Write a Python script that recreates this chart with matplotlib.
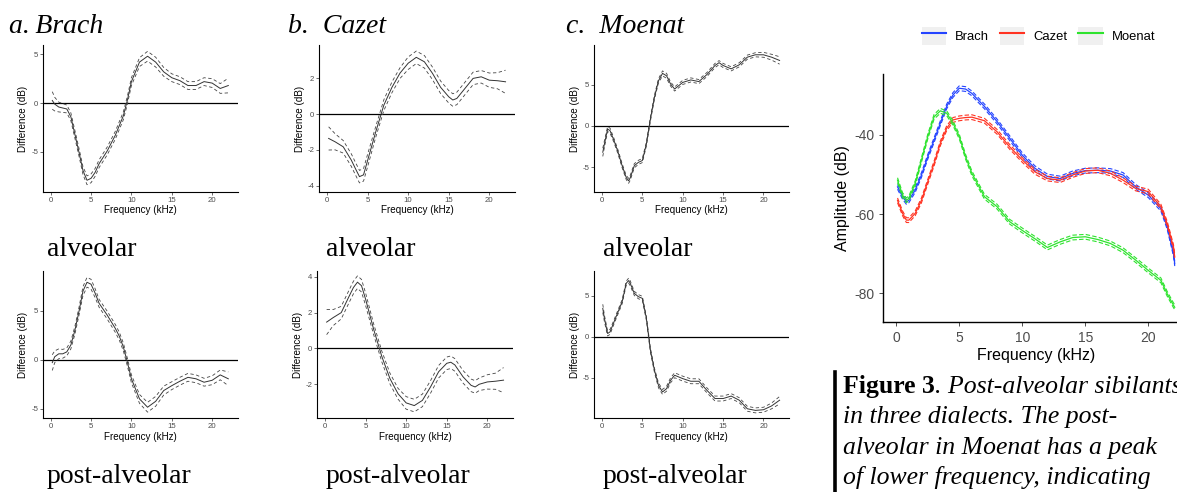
import matplotlib
matplotlib.use("Agg")
import matplotlib.pyplot as plt
from matplotlib.lines import Line2D
from matplotlib.patches import Patch
from matplotlib.legend_handler import HandlerTuple

matplotlib.rcParams["axes.unicode_minus"] = False

W, H = 1177, 492
SANS = "Liberation Sans"
SERIF = "Liberation Serif"

# ---------------------------------------------------------------- difference curves (dB)
# Brach, alveolar
a_alv_f = [0.2, 0.5, 1, 1.5, 2, 2.5, 3, 3.5, 4, 4.5, 5, 5.5, 6, 7, 8, 9, 9.5, 10, 11, 12,
           13, 14, 15, 16, 17, 18, 19, 20, 21, 22]
a_alv_y = [0.27, -0.1, -0.4, -0.5, -0.6, -1.4, -3.2, -5.0, -6.9, -7.9, -7.7, -7.1, -6.2, -4.9,
           -3.3, -1.3, 0.3, 2.2, 4.2, 4.8, 4.2, 3.2, 2.6, 2.3, 1.8, 1.8, 2.2, 2.05, 1.5, 1.8]
a_alv_se = [0.9, 0.7, 0.5, 0.45, 0.4, 0.4, 0.4, 0.4, 0.4, 0.45, 0.45, 0.4, 0.4, 0.4, 0.4, 0.4,
            0.4, 0.4, 0.45, 0.5, 0.5, 0.45, 0.4, 0.4, 0.4, 0.4, 0.4, 0.45, 0.5, 0.75]
# Brach, post-alveolar
a_post_f = [0.2, 0.5, 1, 1.5, 2, 2.5, 3, 3.5, 4, 4.5, 5, 5.5, 6, 7, 8, 8.5, 9, 9.5, 10, 11,
            12, 13, 14, 15, 16, 17, 18, 19, 20, 21, 22]
a_post_y = [-0.3, 0.3, 0.6, 0.6, 0.8, 1.5, 3.0, 4.9, 7.0, 7.9, 7.7, 6.8, 5.75, 4.55, 3.2, 2.4,
            1.3, -0.25, -1.95, -4.0, -4.85, -4.25, -3.15, -2.65, -2.2, -1.8, -1.95, -2.3,
            -2.1, -1.55, -1.95]
a_post_se = [0.8, 0.6, 0.5, 0.45, 0.4, 0.4, 0.4, 0.4, 0.45, 0.5, 0.5, 0.45, 0.4, 0.4, 0.4,
             0.4, 0.4, 0.4, 0.4, 0.45, 0.5, 0.5, 0.45, 0.4, 0.4, 0.4, 0.4, 0.4, 0.45, 0.5, 0.7]
# Cazet, alveolar
b_alv_f = [0.2, 1, 2, 3, 3.5, 4, 4.5, 5, 6, 7, 8, 9, 10, 11, 12, 13, 14, 15, 15.5, 16, 17,
           18, 19, 20, 21, 22]
b_alv_y = [-1.36, -1.55, -1.83, -2.58, -3.05, -3.5, -3.4, -2.6, -1.0, 0.5, 1.5, 2.3, 2.85,
           3.18, 2.93, 2.28, 1.5, 0.97, 0.79, 0.88, 1.44, 2.0, 2.09, 1.9, 1.87, 1.81]
b_alv_se = [0.65, 0.45, 0.35, 0.35, 0.35, 0.35, 0.35, 0.35, 0.3, 0.3, 0.3, 0.3, 0.35, 0.35,
            0.35, 0.35, 0.35, 0.35, 0.35, 0.35, 0.35, 0.35, 0.35, 0.4, 0.45, 0.65]
# Cazet, post-alveolar
b_post_f = [0.2, 1, 2, 3, 3.5, 4, 4.5, 5, 6, 7, 8, 9, 10, 11, 12, 13, 14, 15, 15.5, 16, 17,
            18, 18.5, 19, 20, 21, 22]
b_post_y = [1.47, 1.72, 2.0, 2.94, 3.4, 3.7, 3.5, 2.75, 1.06, -0.45, -1.68, -2.53, -3.04,
            -3.19, -2.9, -2.15, -1.3, -0.83, -0.77, -0.92, -1.58, -2.06, -2.15, -2.0, -1.87,
            -1.83, -1.77]
b_post_se = [0.7, 0.45, 0.35, 0.35, 0.35, 0.35, 0.35, 0.35, 0.3, 0.3, 0.3, 0.3, 0.35, 0.35,
             0.35, 0.35, 0.35, 0.35, 0.35, 0.35, 0.35, 0.35, 0.35, 0.35, 0.4, 0.45, 0.7]
# Moenat, alveolar
c_alv_f = [0.1, 0.3, 0.7, 1, 1.5, 2, 2.5, 3, 3.3, 3.5, 4, 4.5, 5, 5.5, 6, 6.5, 7, 7.5, 8,
           8.5, 9, 10, 11, 12, 13, 14, 14.5, 15, 16, 17, 18, 19, 20, 21, 22]
c_alv_y = [-3.2, -2.2, -0.37, -0.57, -1.8, -3.2, -4.84, -6.26, -6.67, -6.3, -4.84, -4.43,
           -4.2, -2.2, 0.85, 3.5, 5.5, 6.4, 6.1, 5.1, 4.5, 5.3, 5.6, 5.4, 6.26, 7.36, 7.7,
           7.36, 6.95, 7.44, 8.37, 8.66, 8.66, 8.37, 7.97]
c_alv_se = [0.5, 0.4, 0.3, 0.3, 0.25, 0.25, 0.25, 0.25, 0.3, 0.3, 0.25, 0.25, 0.25, 0.25,
            0.25, 0.25, 0.25, 0.3, 0.3, 0.25, 0.25, 0.25, 0.25, 0.25, 0.25, 0.25, 0.25, 0.25,
            0.25, 0.25, 0.25, 0.25, 0.3, 0.35, 0.45]
# Moenat, post-alveolar
c_post_f = [0.1, 0.3, 0.7, 1, 1.5, 2, 2.5, 3, 3.3, 3.5, 4, 4.5, 5, 5.5, 6, 6.5, 7, 7.5, 8,
            8.5, 9, 10, 11, 12, 13, 14, 15, 16, 17, 18, 19, 20, 21, 22]
c_post_y = [3.45, 2.24, 0.4, 0.6, 1.83, 3.05, 4.27, 6.5, 6.83, 6.5, 5.28, 4.88, 4.67, 2.24,
            -1.63, -4.07, -5.9, -6.7, -6.3, -5.28, -4.67, -5.08, -5.4, -5.4, -6.5, -7.5,
            -7.5, -7.2, -7.7, -8.74, -8.94, -8.86, -8.4, -7.7]
c_post_se = [0.5, 0.4, 0.3, 0.3, 0.25, 0.25, 0.25, 0.25, 0.3, 0.3, 0.25, 0.25, 0.25, 0.25,
             0.25, 0.25, 0.3, 0.3, 0.3, 0.3, 0.3, 0.3, 0.3, 0.3, 0.3, 0.3, 0.3, 0.3, 0.3,
             0.3, 0.3, 0.3, 0.35, 0.45]

# ---------------------------------------------------------------- post-alveolar spectra (dB)
spec_f = [0.1, 0.5, 0.8, 1, 1.5, 2, 2.5, 3, 3.5, 4, 4.5, 5, 5.5, 6, 7, 8, 9, 10, 11, 12, 13,
          14, 15, 16, 17, 18, 19, 20, 21, 21.5, 22, 22.1]
spec_brach = [-53.1, -55.6, -56.9, -56.5, -53.9, -50.1, -45.5, -41.3, -37.0, -32.8, -29.9,
              -28.2, -28.4, -29.5, -32.8, -36.6, -40.8, -45.1, -48.4, -50.5, -51.0, -49.7,
              -49.0, -48.9, -49.1, -50.1, -53.1, -55.2, -58.6, -63.2, -70.0, -72.5]
spec_cazet = [-56.5, -59.8, -61.5, -61.5, -59.8, -56.5, -51.8, -47.2, -42.1, -38.3, -36.2,
              -35.8, -35.6, -35.5, -36.4, -39.2, -43.0, -46.3, -49.3, -51.0, -51.4, -50.1,
              -49.1, -48.9, -49.7, -51.4, -53.5, -54.3, -58.1, -62.4, -68.3, -70.8]
spec_moenat = [-51.4, -55.2, -56.5, -56.0, -52.2, -46.3, -40.4, -35.4, -33.9, -34.5, -37.0,
               -40.4, -45.5, -49.7, -55.6, -58.1, -61.9, -64.1, -66.2, -68.4, -67.0, -65.9,
               -65.7, -66.4, -67.4, -69.1, -71.6, -74.2, -76.7, -80.1, -83.0, -83.5]
spec_se = 0.6
dialects = ["Brach", "Cazet", "Moenat"]
dialect_colors = ["#2444ff", "#ff3322", "#2ee32e"]

titles = ["a.\u2009Brach", "b.  Cazet", "c.  Moenat"]
caption_lines = ["in three dialects. The post-",
                 "alveolar in Moenat has a peak",
                 "of lower frequency, indicating"]


def px_axes(fig, left, top, right, bottom):
    """add axes from pixel edges (origin top-left)"""
    return fig.add_axes([left / W, 1 - bottom / H, (right - left) / W, (bottom - top) / H])


def style_small(ax, ylim, yticks):
    ax.set_xlim(-0.95, 23.2)
    ax.set_ylim(*ylim)
    ax.set_xticks([0, 5, 10, 15, 20])
    ax.set_yticks(yticks)
    for s in ("top", "right"):
        ax.spines[s].set_visible(False)
    for s in ("left", "bottom"):
        ax.spines[s].set_linewidth(0.8)
    ax.tick_params(labelsize=5.6, colors="#333333", labelcolor="#4d4d4d",
                   length=2, width=0.5, pad=1.5)
    for lab in ax.get_xticklabels() + ax.get_yticklabels():
        lab.set_family(SANS)
    ax.set_xlabel("Frequency (kHz)", fontsize=7.1, family=SANS, labelpad=1)
    ax.set_ylabel("Difference (dB)", fontsize=7.1, family=SANS, labelpad=2)


def draw_diff(ax, f, y, se):
    lo = [v - s for v, s in zip(y, se)]
    hi = [v + s for v, s in zip(y, se)]
    ax.axhline(0, color="black", lw=0.9, zorder=1)
    ax.plot(f, y, color="#333333", lw=0.7, zorder=3)
    ax.plot(f, lo, color="#444444", lw=0.6, ls=(0, (4, 3)), zorder=2)
    ax.plot(f, hi, color="#444444", lw=0.6, ls=(0, (4, 3)), zorder=2)


fig = plt.figure(figsize=(W / 100, H / 100), dpi=100)

# ---------------------------------------------------------------- small panels
top_row = [(43, 238, a_alv_f, a_alv_y, a_alv_se, (-9.1, 5.95), [-5, 0, 5]),
           (319.3, 515.3, b_alv_f, b_alv_y, b_alv_se, (-4.36, 3.87), [-4, -2, 0, 2]),
           (594.3, 789.3, c_alv_f, c_alv_y, c_alv_se, (-8.03, 9.85), [-5, 0, 5])]
bot_row = [(43, 238, a_post_f, a_post_y, a_post_se, (-5.98, 9.08), [-5, 0, 5]),
           (317.3, 513.3, b_post_f, b_post_y, b_post_se, (-3.9, 4.34), [-2, 0, 2, 4]),
           (594.3, 789.3, c_post_f, c_post_y, c_post_se, (-9.9, 8.03), [-5, 0, 5])]

for left, right, f, y, se, ylim, yt in top_row:
    ax = px_axes(fig, left, 45, right, 192)
    draw_diff(ax, f, y, se)
    style_small(ax, ylim, yt)
for left, right, f, y, se, ylim, yt in bot_row:
    ax = px_axes(fig, left, 270.7, right, 418.3)
    draw_diff(ax, f, y, se)
    style_small(ax, ylim, yt)

# panel titles and row labels
for xp, t in zip([9, 288, 566.5], titles):
    fig.text(xp / W, 1 - 33 / H, t, fontsize=20, family=[SERIF, "DejaVu Serif"],
             style="italic", va="baseline")
for xp in [47, 326, 603]:
    fig.text(xp / W, 1 - 256 / H, "alveolar", fontsize=20, family=SERIF, va="baseline")
    fig.text(xp / W, 1 - 483 / H, "post-alveolar", fontsize=20, family=SERIF, va="baseline")

# ---------------------------------------------------------------- spectra panel
axd = px_axes(fig, 883.3, 74, 1188.6, 322.3)
for vals, col in zip([spec_brach, spec_cazet, spec_moenat], dialect_colors):
    lo = [v - spec_se for v in vals]
    hi = [v + spec_se for v in vals]
    axd.plot(spec_f, lo, color=col, lw=0.8, ls=(0, (4, 2)))
    axd.plot(spec_f, hi, color=col, lw=0.8, ls=(0, (4, 2)))
    axd.plot(spec_f, vals, color=col, lw=0.9)
axd.set_xlim(-1.03, 23.2)
axd.set_ylim(-87.3, -24.6)
axd.set_xticks([0, 5, 10, 15, 20])
axd.set_yticks([-80, -60, -40])
for s in ("top", "right"):
    axd.spines[s].set_visible(False)
for s in ("left", "bottom"):
    axd.spines[s].set_linewidth(1.0)
axd.tick_params(labelsize=10, colors="#333333", labelcolor="#4d4d4d", length=3, width=0.6)
for lab in axd.get_xticklabels() + axd.get_yticklabels():
    lab.set_family(SANS)
axd.set_xlabel("Frequency (kHz)", fontsize=11.5, family=SANS, labelpad=2)
axd.set_ylabel("Amplitude (dB)", fontsize=11.5, family=SANS, labelpad=3)

handles = [(Patch(facecolor="#f0f0f0", edgecolor="none"),
            Line2D([0], [0], color=c, lw=1.5)) for c in dialect_colors]
fig.legend(handles, dialects, handler_map={tuple: HandlerTuple(ndivide=1, pad=0)},
           loc="center left", bbox_to_anchor=(921.7 / W, 1 - 36 / H), ncol=3, frameon=False,
           prop={"family": SANS, "size": 9.4}, handlelength=1.85, handleheight=1.85,
           handletextpad=0.7, columnspacing=0.85, borderpad=0, borderaxespad=0)

# ---------------------------------------------------------------- caption
fig.add_artist(Line2D([835 / W, 835 / W], [0, 1 - 372 / H], color="black", lw=2.6))
cap = fig.text(843 / W, 1 - 393 / H, "Figure 3", fontsize=18.5, family=SERIF,
               weight="bold", va="baseline")
ax_bg = fig.add_axes([0, 0, 1, 1], zorder=-1)
ax_bg.axis("off")
ax_bg.annotate(". Post-alveolar sibilants", xy=(1, 0), xycoords=cap, va="bottom",
               fontsize=18.5, family=SERIF, style="italic", annotation_clip=False)
for yy, line in zip([423.5, 454, 484], caption_lines):
    fig.text(843 / W, 1 - yy / H, line, fontsize=18.5, family=SERIF, style="italic",
             va="baseline")

fig.savefig("out.png", dpi=100)
